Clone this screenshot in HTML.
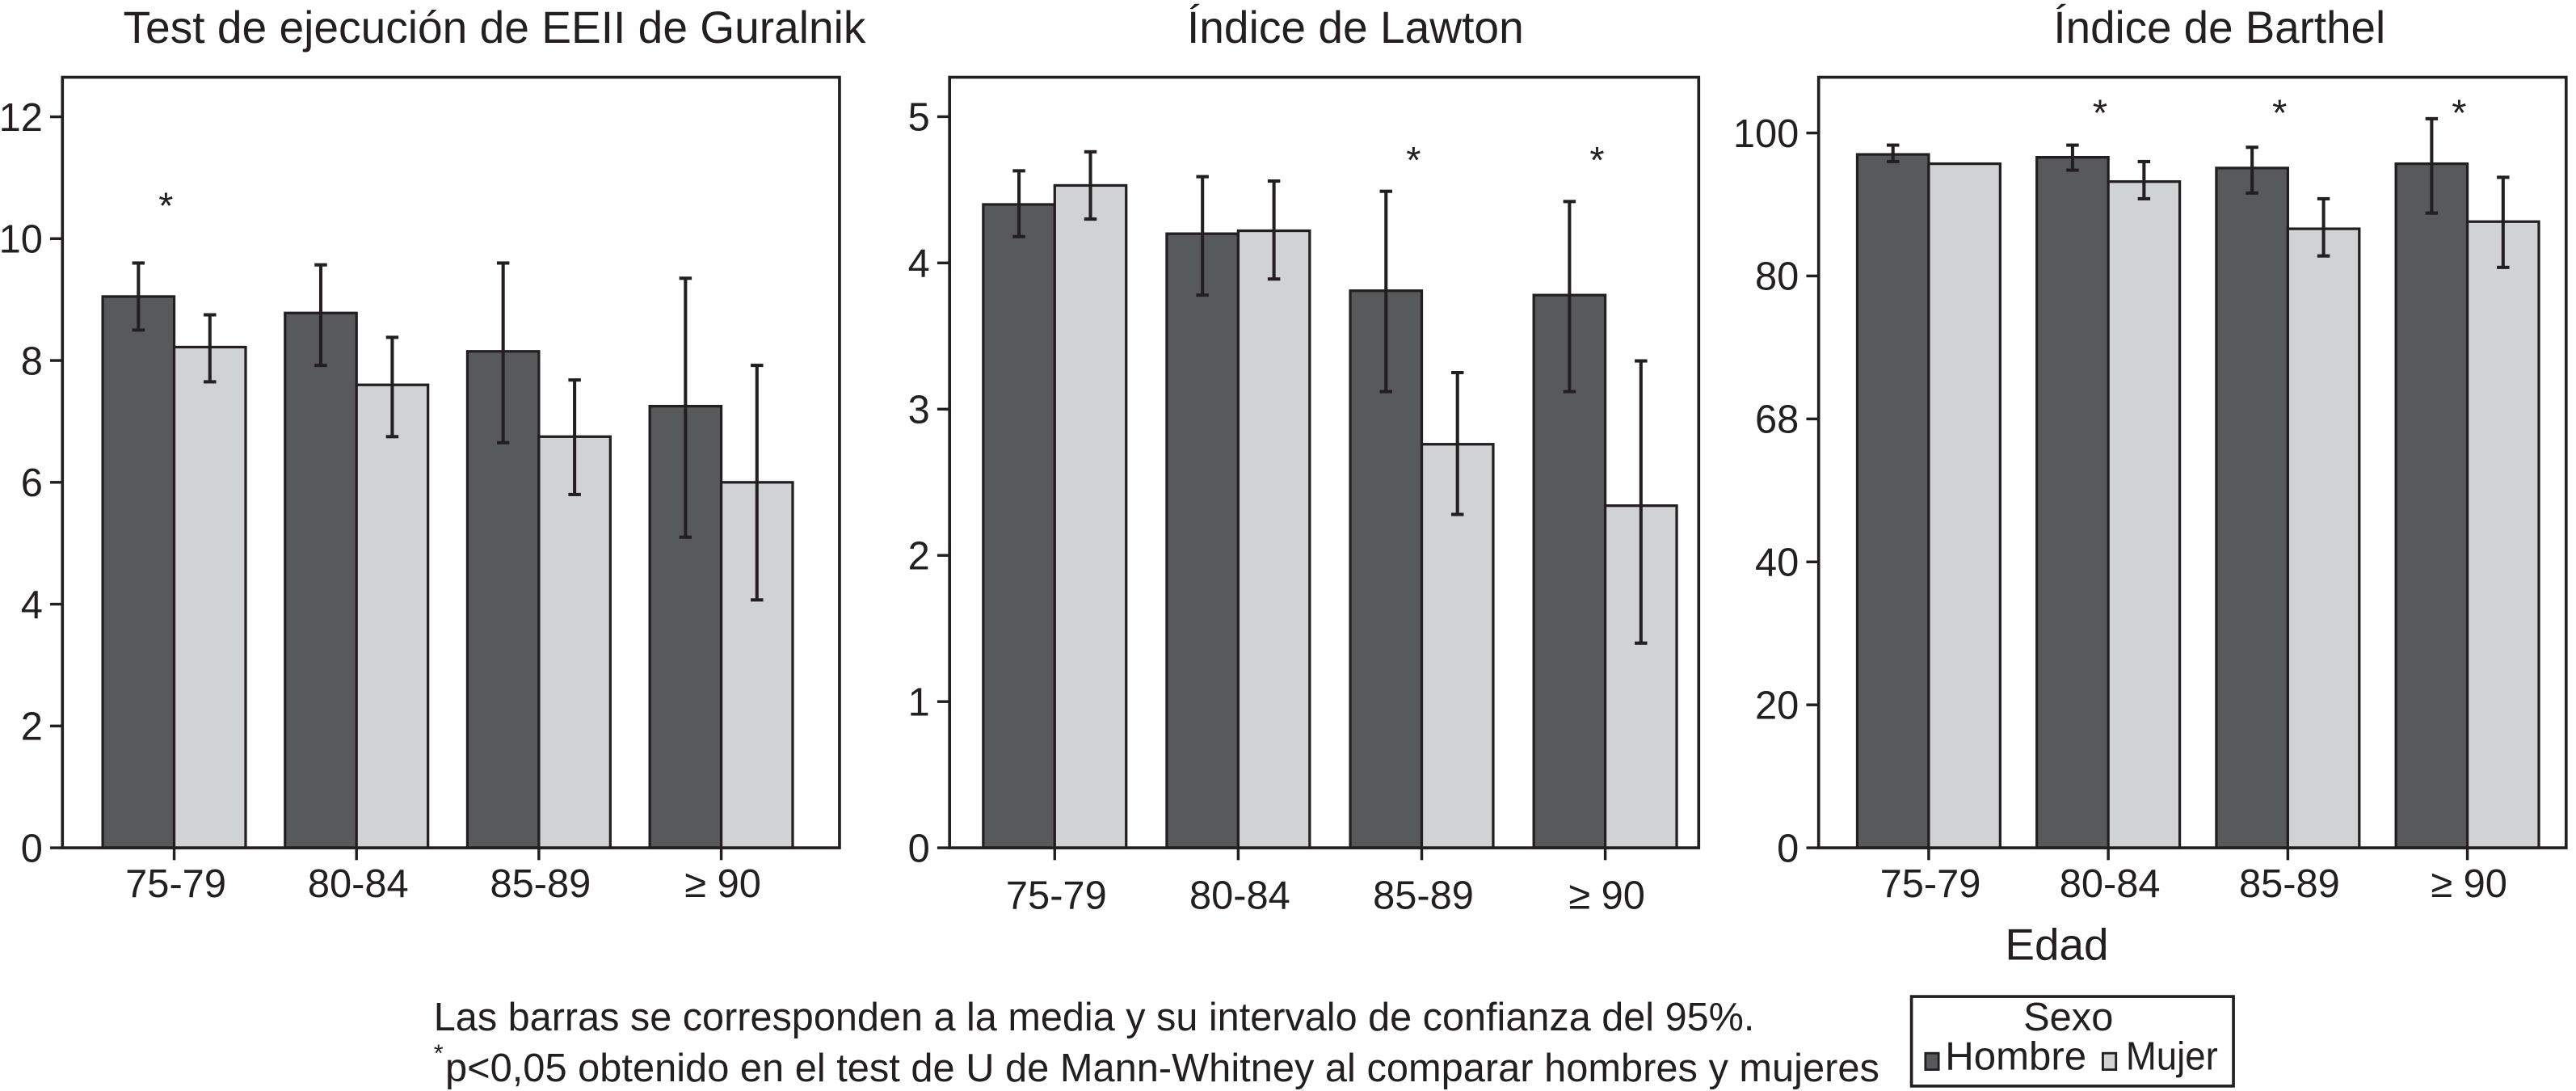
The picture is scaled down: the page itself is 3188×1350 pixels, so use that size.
<!DOCTYPE html>
<html><head><meta charset="utf-8"><style>
html,body{margin:0;padding:0;background:#fff;}
svg{display:block;font-family:"Liberation Sans",Arial,sans-serif;}
</style></head><body>
<svg id="chart" width="3188" height="1350" viewBox="0 0 1568 664" xmlns="http://www.w3.org/2000/svg">
<text x="264" y="627" font-size="24" textLength="804" lengthAdjust="spacingAndGlyphs" fill="#231f20">Las barras se corresponden a la media y su intervalo de confianza del 95%.</text>
<text x="264" y="646" font-size="15" fill="#231f20">*</text>
<text x="271" y="658" font-size="24" textLength="873" lengthAdjust="spacingAndGlyphs" fill="#231f20">p&lt;0,05 obtenido en el test de U de Mann-Whitney al comparar hombres y mujeres</text>
<text x="1252" y="584" font-size="27" text-anchor="middle" fill="#231f20">Edad</text>
<g>
<rect x="1163.5" y="606.5" width="196" height="54.5" fill="#fff" stroke="#231f20" stroke-width="1.8"/>
<text x="1259" y="627" font-size="24" text-anchor="middle" fill="#231f20">Sexo</text>
<rect x="1172" y="641" width="8" height="10" fill="#58595b" stroke="#231f20" stroke-width="1.4"/>
<text x="1184" y="651" font-size="24" textLength="86" lengthAdjust="spacingAndGlyphs" fill="#231f20">Hombre</text>
<rect x="1280" y="641" width="8" height="10" fill="#d1d2d4" stroke="#231f20" stroke-width="1.4"/>
<text x="1294" y="651" font-size="24" textLength="56" lengthAdjust="spacingAndGlyphs" fill="#231f20">Mujer</text>
</g>
</svg>
<script>
const categories = ["75-79","80-84","85-89","\u2265 90"];
// Panel 1: Guralnik
const p1Hombre = [9.05, 8.78, 8.15, 7.25];
const p1HombreLo = [8.5, 7.92, 6.65, 5.1];
const p1HombreHi = [9.6, 9.57, 9.6, 9.35];
const p1Mujer = [8.22, 7.6, 6.75, 6.0];
const p1MujerLo = [7.65, 6.75, 5.8, 4.07];
const p1MujerHi = [8.75, 8.38, 7.68, 7.92];
const p1Stars = [10.65, null, null, null];
const p1Ticks = [0,2,4,6,8,10,12];
const p1TickLabels = ["0","2","4","6","8","10","12"];
// Panel 2: Lawton
const p2Hombre = [4.4, 4.2, 3.81, 3.78];
const p2HombreLo = [4.18, 3.78, 3.12, 3.12];
const p2HombreHi = [4.63, 4.59, 4.49, 4.42];
const p2Mujer = [4.53, 4.22, 2.76, 2.34];
const p2MujerLo = [4.3, 3.89, 2.28, 1.4];
const p2MujerHi = [4.76, 4.56, 3.25, 3.33];
const p2Stars = [null, null, 4.75, 4.75];
const p2Ticks = [0,1,2,3,4,5];
const p2TickLabels = ["0","1","2","3","4","5"];
// Panel 3: Barthel
const p3Hombre = [97.0, 96.6, 95.1, 95.7];
const p3HombreLo = [96.0, 94.8, 91.6, 88.8];
const p3HombreHi = [98.3, 98.3, 98.0, 102.0];
const p3Mujer = [95.7, 93.2, 86.6, 87.6];
const p3MujerLo = [null, 90.8, 82.8, 81.2];
const p3MujerHi = [null, 96.0, 90.8, 93.8];
const p3Stars = [null, 103.8, 103.8, 103.8];
const p3Ticks = [0,20,40,60,80,100];
const p3TickLabels = ["0","20","40","68","80","100"];

const NS = "http://www.w3.org/2000/svg";
const svg = document.getElementById("chart");
function mk(tag, attrs, parent){const e=document.createElementNS(NS,tag);for(const k in attrs)e.setAttribute(k,attrs[k]);(parent||svg).appendChild(e);return e;}

const panels = [
 {title:"Test de ejecución de EEII de Guralnik", titleX:301, titleW:452, left:38, right:511, top:47, bottom:516, ymax:12.65, pad:68, step:111, labY:546,
  h:p1Hombre,hl:p1HombreLo,hh:p1HombreHi,m:p1Mujer,ml:p1MujerLo,mh:p1MujerHi,stars:p1Stars,ticks:p1Ticks,tl:p1TickLabels},
 {title:"Índice de Lawton", titleX:825, titleW:205, left:578, right:1034, top:47, bottom:516, ymax:5.27, pad:64, step:111.7, labY:553,
  h:p2Hombre,hl:p2HombreLo,hh:p2HombreHi,m:p2Mujer,ml:p2MujerLo,mh:p2MujerHi,stars:p2Stars,ticks:p2Ticks,tl:p2TickLabels},
 {title:"Índice de Barthel", titleX:1351, titleW:202, left:1107, right:1562, top:47, bottom:516, ymax:107.8, pad:67, step:109.3, labY:546,
  h:p3Hombre,hl:p3HombreLo,hh:p3HombreHi,m:p3Mujer,ml:p3MujerLo,mh:p3MujerHi,stars:p3Stars,ticks:p3Ticks,tl:p3TickLabels}
];
const BW = 43.5, INK = "#231f20";
panels.forEach((p, pi) => {
  const g = mk("g", {});
  
  
  const y = v => p.bottom - (v / p.ymax) * (p.bottom - p.top);
  const x = i => p.left + p.pad + i * p.step;
  const t = mk("text", {x:p.titleX, y:26, "font-size":27.5, "text-anchor":"middle", textLength:p.titleW, lengthAdjust:"spacingAndGlyphs", fill:INK}, g);
  t.textContent = p.title;
  
  
  p.ticks.forEach((v, k) => {
    const tk = mk("line", {x1:p.left-7.5, x2:p.left, y1:y(v), y2:y(v), stroke:INK, "stroke-width":1.7}, g);
    
    
    const tt = mk("text", {x:p.left-12, y:y(v)+8.5, "font-size":24, "text-anchor":"end", fill:INK}, g);
    tt.textContent = p.tl[k];
    
    
  });
  categories.forEach((c, i) => {
    const cx = x(i);
    [[p.h,p.hl,p.hh,"#58595b",-BW,"hombre"],[p.m,p.ml,p.mh,"#d1d2d4",0,"mujer"]].forEach(s => {
      const v = s[0][i];
      const r = mk("rect", {x:cx+s[4], y:y(v), width:BW, height:p.bottom-y(v), fill:s[3], stroke:INK, "stroke-width":1.6}, g);
      
      
      if (s[1][i] != null) {
        const ex = cx + s[4] + BW/2;
        const eg = mk("g", {stroke:INK, "stroke-width":2}, g);
        
        
        mk("line", {x1:ex, x2:ex, y1:y(s[1][i]), y2:y(s[2][i])}, eg);
        mk("line", {x1:ex-3.8, x2:ex+3.8, y1:y(s[1][i]), y2:y(s[1][i])}, eg);
        mk("line", {x1:ex-3.8, x2:ex+3.8, y1:y(s[2][i]), y2:y(s[2][i])}, eg);
      }
    });
    if (p.stars[i] != null) {
      const st = mk("text", {x:cx-5, y:y(p.stars[i])+12, "font-size":23, "text-anchor":"middle", fill:INK}, g);
      st.textContent = "*";
      
      
    }
    const xt = mk("line", {x1:cx, x2:cx, y1:p.bottom, y2:p.bottom+7.5, stroke:INK, "stroke-width":1.7}, g);
    
    
    const xl = mk("text", {x:cx+1, y:p.labY, "font-size":24, "text-anchor":"middle", fill:INK}, g);
    xl.textContent = c;
    
    
  });
  const fr = mk("rect", {x:p.left, y:p.top, width:p.right-p.left, height:p.bottom-p.top, fill:"none", stroke:INK, "stroke-width":1.8}, g);
  
  
});
</script>
</body></html>
